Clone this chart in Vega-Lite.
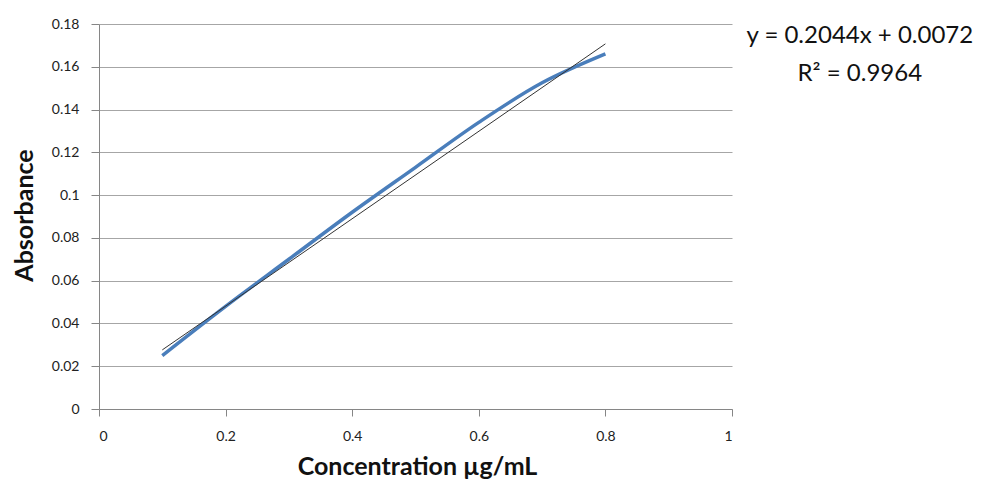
{
  "$schema": "https://vega.github.io/schema/vega-lite/v6.json",
  "autosize": {"type": "none"},
  "padding": {"left": 99, "top": 24, "right": 251, "bottom": 75},
  "width": 633,
  "height": 385,
  "background": "white",
  "config": {
    "view": {"stroke": null},
    "font": "Lato",
    "axis": {"labelFont": "Lato", "titleFont": "Lato"}
  },
  "datasets": {
    "measured": [
      {"conc": 0.1, "abs": 0.025},
      {"conc": 0.2, "abs": 0.048},
      {"conc": 0.3, "abs": 0.070},
      {"conc": 0.4, "abs": 0.092},
      {"conc": 0.5, "abs": 0.113},
      {"conc": 0.6, "abs": 0.134},
      {"conc": 0.7, "abs": 0.1525},
      {"conc": 0.8, "abs": 0.166}
    ],
    "trend": [
      {"conc": 0.1, "abs": 0.02764},
      {"conc": 0.8, "abs": 0.17072}
    ]
  },
  "layer": [
    {
      "data": {"name": "measured"},
      "mark": {"type": "line", "interpolate": "catmull-rom", "color": "#4a7ebb", "strokeWidth": 3.5, "strokeCap": "butt"},
      "encoding": {
        "x": {
          "field": "conc", "type": "quantitative",
          "scale": {"domain": [0, 1], "nice": false},
          "axis": {
            "title": "Concentration µg/mL",
            "values": [0, 0.2, 0.4, 0.6, 0.8, 1],
            "format": "~g",
            "grid": false,
            "domainColor": "#868686",
            "tickColor": "#868686",
            "tickSize": 7,
            "labelPadding": 13,
            "labelFontSize": 14,
            "labelColor": "#222222",
            "titleFontSize": 25,
            "titleFontWeight": "bold",
            "titleColor": "#111111",
            "titleX": 318,
            "titleY": 57,
            "titleBaseline": "middle"
          }
        },
        "y": {
          "field": "abs", "type": "quantitative",
          "scale": {"domain": [0, 0.18], "nice": false},
          "axis": {
            "title": "Absorbance",
            "values": [0, 0.02, 0.04, 0.06, 0.08, 0.1, 0.12, 0.14, 0.16, 0.18],
            "format": "~g",
            "gridColor": "#a6a6a6",
            "gridWidth": 1,
            "domainColor": "#868686",
            "tickColor": "#868686",
            "tickSize": 8,
            "labelPadding": 12,
            "labelFontSize": 14,
            "labelColor": "#222222",
            "titleFontSize": 25,
            "titleFontWeight": "bold",
            "titleColor": "#111111",
            "titleAngle": -90,
            "titleX": -75,
            "titleY": 191,
            "titleAlign": "center",
            "titleBaseline": "middle"
          }
        }
      }
    },
    {
      "data": {"name": "trend"},
      "mark": {"type": "line", "color": "#333333", "strokeWidth": 1},
      "encoding": {
        "x": {"field": "conc", "type": "quantitative"},
        "y": {"field": "abs", "type": "quantitative"}
      }
    },
    {
      "data": {"values": [{}]},
      "mark": {"type": "text", "align": "center", "baseline": "middle", "fontSize": 24, "lineHeight": 38, "color": "#111111", "clip": false},
      "encoding": {
        "text": {"value": ["y = 0.2044x + 0.0072", "R² = 0.9964"]},
        "x": {"datum": 1.2019, "type": "quantitative"},
        "y": {"datum": 0.1744, "type": "quantitative"}
      }
    }
  ]
}
